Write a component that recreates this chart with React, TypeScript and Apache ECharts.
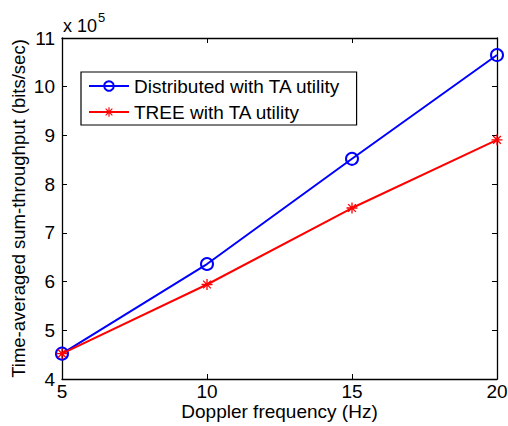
import React, { useEffect, useRef } from "react";
import * as echarts from "echarts";

const dopplerHz = [5, 10, 15, 20];
const distributedTA = [4.52, 6.36, 8.52, 10.65];
const treeTA = [4.52, 5.94, 7.51, 8.91];
const seriesNames = ["Distributed with TA utility", "TREE with TA utility"];
const xTicks = { min: 5, max: 20, interval: 5 };
const yTicks = { min: 4, max: 11, interval: 1 };

const FONT = "Liberation Sans, Arial, sans-serif";

const starPath =
  "path://M-1.2,-10L1.2,-10L1.2,10L-1.2,10Z" +
  "M-10,-1.2L10,-1.2L10,1.2L-10,1.2Z" +
  "M-7.9,-6.2L-6.2,-7.9L7.9,6.2L6.2,7.9Z" +
  "M6.2,-7.9L7.9,-6.2L-6.2,7.9L-7.9,6.2Z";

export default function App() {
  const ref = useRef<HTMLDivElement>(null);
  useEffect(() => {
    if (!ref.current) return;
    const chart = echarts.init(ref.current, undefined, { renderer: "svg" });
    const axisCommon = {
      axisLine: { show: true, lineStyle: { color: "#000", width: 1.3 } },
      axisTick: { show: true, inside: true, length: 5, lineStyle: { color: "#000" } },
      splitLine: { show: false },
    };
    chart.setOption({
      animation: false,
      backgroundColor: "#fff",
      textStyle: { fontFamily: FONT },
      grid: {
        left: 62,
        right: 11,
        top: 38,
        bottom: 47,
        containLabel: false,
        outerBoundsMode: "none",
      },
      xAxis: [
        {
          type: "value",
          ...xTicks,
          ...axisCommon,
          axisLabel: { color: "#000", fontSize: 19, margin: 3, fontFamily: FONT },
          name: "Doppler frequency (Hz)",
          nameLocation: "middle",
          nameGap: 23,
          nameMoveOverlap: false,
          nameTextStyle: { color: "#000", fontSize: 19, fontFamily: FONT },
        },
        {
          type: "value",
          position: "top",
          ...xTicks,
          ...axisCommon,
          axisLabel: { show: false },
        },
      ],
      yAxis: [
        {
          type: "value",
          ...yTicks,
          ...axisCommon,
          axisLabel: { color: "#000", fontSize: 19, margin: 7, fontFamily: FONT },
          name: "Time-averaged sum-throughput (bits/sec)",
          nameLocation: "middle",
          nameGap: 34,
          nameMoveOverlap: false,
          nameTextStyle: { color: "#000", fontSize: 18.5, fontFamily: FONT },
        },
        {
          type: "value",
          position: "right",
          ...yTicks,
          ...axisCommon,
          axisLabel: { show: false },
        },
      ],
      legend: {
        orient: "vertical",
        left: 81,
        top: 72,
        backgroundColor: "#fff",
        borderColor: "#000",
        borderWidth: 1.2,
        borderRadius: 0,
        padding: [4, 16, 3, 7],
        itemGap: 6,
        itemWidth: 40,
        itemHeight: 12,
        textStyle: { color: "#000", fontSize: 19, lineHeight: 20, fontFamily: FONT },
        data: seriesNames,
      },
      graphic: [
        {
          type: "text",
          left: 63,
          top: 11,
          style: {
            text: "{a|x 10}{b|5}",
            rich: {
              a: { fontSize: 18, fontFamily: FONT, fill: "#000", verticalAlign: "bottom", lineHeight: 24 },
              b: { fontSize: 13, fontFamily: FONT, fill: "#000", verticalAlign: "top", lineHeight: 24, padding: [0, 0, 10, 1] },
            },
          },
        },
      ],
      series: [
        {
          name: seriesNames[0],
          type: "line",
          data: dopplerHz.map((x, i) => [x, distributedTA[i]]),
          symbol: "circle",
          symbolSize: 12,
          itemStyle: { color: "transparent", borderColor: "#0000ff", borderWidth: 2 },
          lineStyle: { color: "#0000ff", width: 2 },
          color: "#0000ff",
          z: 2,
        },
        {
          name: seriesNames[1],
          type: "line",
          data: dopplerHz.map((x, i) => [x, treeTA[i]]),
          symbol: starPath,
          symbolSize: 11,
          itemStyle: { color: "#ff0000" },
          lineStyle: { color: "#ff0000", width: 2 },
          color: "#ff0000",
          z: 3,
        },
      ],
    });
    return () => chart.dispose();
  }, []);
  return (
    <div
      ref={ref}
      style={{ width: 508, height: 426, position: "fixed", left: 0, top: 0 }}
    />
  );
}
